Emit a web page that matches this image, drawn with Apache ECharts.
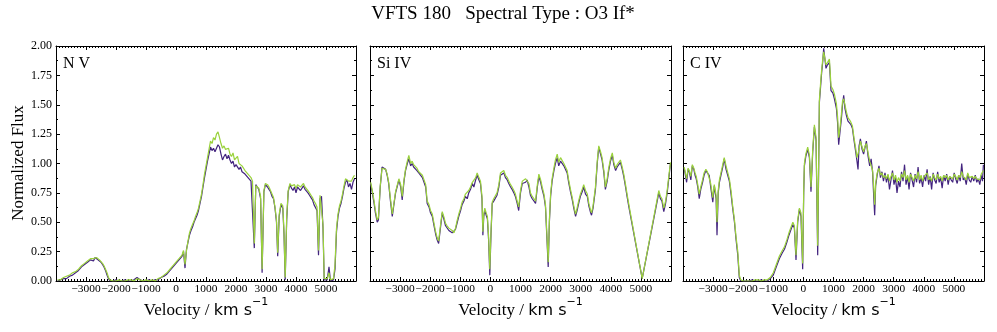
<!DOCTYPE html>
<html>
<head>
<meta charset="utf-8">
<script src="https://cdn.jsdelivr.net/npm/echarts@6/dist/echarts.min.js"></script>
<style>
html,body{margin:0;padding:0;background:#fff;}
#chart{width:997px;height:332px;}
</style>
</head>
<body>
<div id="chart"></div>
<script>
// ---------- DATA ----------
var panelNames = ['N V', 'Si IV', 'C IV'];
var xTicks = [-3000, -2000, -1000, 0, 1000, 2000, 3000, 4000, 5000];
var yTicks = [0.00, 0.25, 0.50, 0.75, 1.00, 1.25, 1.50, 1.75, 2.00];

// N V
var nvVel = [
 -3950,-3850,-3750,-3650,-3550,-3450,-3350,-3250,-3150,-3050,
 -2950,-2850,-2750,-2700,-2650,-2600,-2550,-2500,-2450,-2400,
 -2350,-2300,-2250,-2200,-2100,-2000,-1900,-1800,-1700,-1600,
 -1500,-1400,-1300,-1200,-1100,-1000,-900,-800,-700,-600,
 -500,-400,-300,-200,-100,0,100,150,200,250,
 300,350,400,450,500,550,600,650,700,750,
 800,850,900,950,1000,1050,1100,1150,1200,1250,
 1300,1350,1400,1450,1500,1550,1600,1650,1700,1750,
 1800,1850,1900,1950,2000,2050,2100,2150,2200,2250,
 2300,2350,2400,2450,2500,2550,2610,2660,2710,2760,
 2820,2870,2930,2980,3050,3100,3150,3200,3250,3300,
 3350,3390,3440,3500,3560,3600,3640,3690,3740,3800,
 3850,3900,3950,4000,4050,4100,4150,4200,4250,4300,
 4350,4400,4450,4500,4550,4600,4650,4700,4750,4800,
 4850,4900,4940,4990,5040,5100,5150,5200,5250,5300,
 5350,5400,5450,5500,5550,5600,5650,5700,5750,5800,
 5850,5900,5950];
var nvPurple = [
 0.00,0.01,0.02,0.02,0.04,0.05,0.07,0.09,0.12,0.14,
 0.16,0.18,0.17,0.20,0.21,0.18,0.19,0.16,0.14,0.12,
 0.09,0.05,0.02,0.00,0.00,0.01,0.00,0.00,0.01,0.00,
 0.00,0.01,0.03,0.01,0.00,0.00,0.01,0.00,0.01,0.01,
 0.03,0.04,0.06,0.09,0.12,0.15,0.18,0.17,0.21,0.25,
 0.11,0.27,0.33,0.39,0.43,0.46,0.50,0.53,0.56,0.60,
 0.66,0.72,0.80,0.88,0.95,1.02,1.08,1.14,1.11,1.13,
 1.10,1.13,1.16,1.14,1.08,1.03,1.06,1.08,1.04,1.07,
 1.03,1.00,1.02,0.97,0.99,1.00,0.95,0.97,0.93,0.94,
 0.91,0.92,0.88,0.89,0.85,0.84,0.28,0.82,0.80,0.78,
 0.70,0.07,0.76,0.82,0.80,0.78,0.76,0.72,0.70,0.62,
 0.50,0.21,0.55,0.65,0.62,0.40,0.01,0.52,0.76,0.82,
 0.79,0.77,0.80,0.75,0.80,0.81,0.77,0.79,0.81,0.78,
 0.77,0.75,0.73,0.71,0.69,0.65,0.64,0.60,0.22,0.70,
 0.72,0.45,0.01,0.00,0.01,0.12,0.00,0.00,0.01,0.10,
 0.42,0.55,0.62,0.66,0.72,0.79,0.84,0.86,0.80,0.83,
 0.78,0.84,0.87];
var nvGreen = [
 0.01,0.01,0.03,0.04,0.05,0.07,0.08,0.10,0.13,0.15,
 0.17,0.19,0.19,0.19,0.20,0.19,0.18,0.17,0.15,0.13,
 0.10,0.07,0.03,0.01,0.00,0.00,0.01,0.00,0.00,0.01,
 0.01,0.00,0.02,0.01,0.00,0.01,0.00,0.01,0.00,0.02,
 0.03,0.05,0.07,0.10,0.13,0.16,0.19,0.19,0.22,0.26,
 0.14,0.26,0.34,0.41,0.45,0.48,0.51,0.55,0.58,0.62,
 0.68,0.74,0.82,0.91,0.98,1.05,1.12,1.19,1.17,1.22,
 1.20,1.25,1.27,1.22,1.17,1.13,1.15,1.12,1.11,1.13,
 1.08,1.06,1.09,1.03,1.04,1.06,1.00,1.01,0.98,0.97,
 0.94,0.93,0.91,0.90,0.88,0.85,0.32,0.81,0.81,0.79,
 0.72,0.10,0.77,0.83,0.82,0.80,0.77,0.74,0.71,0.63,
 0.52,0.24,0.57,0.66,0.64,0.42,0.03,0.55,0.77,0.83,
 0.81,0.80,0.82,0.79,0.82,0.83,0.80,0.81,0.83,0.80,
 0.79,0.77,0.75,0.73,0.71,0.68,0.66,0.63,0.26,0.73,
 0.74,0.48,0.02,0.01,0.02,0.07,0.01,0.01,0.02,0.14,
 0.45,0.57,0.64,0.68,0.74,0.81,0.87,0.88,0.85,0.86,
 0.85,0.88,0.90];

// Si IV
var siVel = [
 -3980,-3930,-3870,-3820,-3760,-3720,-3660,-3600,-3540,-3480,
 -3430,-3380,-3320,-3260,-3200,-3150,-3100,-3040,-2980,-2930,
 -2870,-2820,-2760,-2710,-2650,-2600,-2550,-2500,-2440,-2380,
 -2320,-2260,-2210,-2150,-2100,-2040,-1990,-1930,-1880,-1820,
 -1770,-1720,-1660,-1600,-1550,-1490,-1440,-1380,-1320,-1270,
 -1210,-1160,-1100,-1050,-990,-940,-880,-830,-770,-720,
 -660,-600,-550,-490,-440,-380,-330,-280,-250,-220,
 -186,-140,-100,-60,-20,20,60,110,170,220,
 280,335,390,445,500,560,610,670,720,780,
 830,890,940,1000,1060,1110,1170,1220,1280,1330,
 1390,1450,1500,1560,1610,1670,1720,1780,1830,1880,
 1920,1960,2000,2050,2110,2160,2220,2270,2330,2390,
 2440,2500,2550,2600,2660,2720,2770,2830,2880,2940,
 2990,3050,3100,3160,3220,3270,3330,3360,3410,3490,
 3550,3600,3660,3710,3770,3820,3880,3930,3990,4050,
 4100,4160,4210,4270,4320,4380,4430,4490,4540,4600,
 5043,5594,5650,5700,5760,5820,5873,5930,5983];
var siPurple = [
 0.83,0.76,0.67,0.58,0.50,0.52,0.80,0.97,0.96,0.95,
 0.90,0.83,0.68,0.55,0.66,0.75,0.80,0.86,0.80,0.69,
 0.85,0.94,1.00,1.04,0.98,1.00,0.97,0.98,0.94,0.92,
 0.93,0.88,0.89,0.80,0.66,0.63,0.58,0.55,0.48,0.40,
 0.35,0.32,0.45,0.58,0.53,0.47,0.46,0.43,0.44,0.41,
 0.40,0.44,0.50,0.55,0.60,0.65,0.68,0.72,0.70,0.75,
 0.78,0.83,0.80,0.86,0.90,0.86,0.83,0.70,0.39,0.55,
 0.60,0.56,0.53,0.35,0.05,0.40,0.66,0.68,0.69,0.73,
 0.80,0.90,0.89,0.92,0.88,0.86,0.83,0.80,0.78,0.75,
 0.72,0.66,0.60,0.75,0.83,0.82,0.84,0.86,0.80,0.73,
 0.70,0.68,0.66,0.80,0.89,0.84,0.78,0.72,0.63,0.35,
 0.12,0.50,0.72,0.85,0.94,1.00,1.05,0.98,1.02,1.03,
 0.98,0.99,0.92,0.84,0.76,0.69,0.62,0.55,0.60,0.67,
 0.72,0.76,0.80,0.74,0.72,0.64,0.58,0.56,0.62,0.78,
 1.00,1.14,1.08,1.03,0.92,0.78,0.85,0.94,1.02,1.07,
 0.99,0.94,0.97,0.96,1.01,0.95,0.89,0.80,0.72,0.63,
 0.02,0.75,0.70,0.68,0.59,0.66,0.75,0.88,1.00];
var siGreen = [
 0.84,0.78,0.69,0.60,0.52,0.54,0.81,0.96,0.97,0.95,
 0.91,0.84,0.70,0.57,0.67,0.76,0.81,0.87,0.82,0.72,
 0.86,0.95,1.02,1.07,1.00,1.02,0.99,1.00,0.96,0.93,
 0.94,0.90,0.91,0.82,0.68,0.65,0.60,0.57,0.50,0.42,
 0.37,0.34,0.47,0.59,0.55,0.49,0.47,0.45,0.46,0.43,
 0.41,0.45,0.52,0.57,0.62,0.67,0.70,0.74,0.73,0.77,
 0.80,0.84,0.83,0.88,0.92,0.88,0.85,0.72,0.42,0.57,
 0.62,0.58,0.55,0.38,0.10,0.42,0.67,0.70,0.71,0.75,
 0.82,0.92,0.91,0.94,0.90,0.88,0.85,0.82,0.80,0.77,
 0.74,0.68,0.63,0.77,0.85,0.84,0.87,0.88,0.83,0.75,
 0.72,0.70,0.68,0.82,0.91,0.86,0.80,0.74,0.65,0.38,
 0.16,0.52,0.74,0.87,0.96,1.03,1.08,1.01,1.05,1.06,
 1.00,1.01,0.94,0.86,0.78,0.71,0.64,0.57,0.62,0.69,
 0.74,0.78,0.82,0.77,0.74,0.66,0.60,0.58,0.64,0.80,
 1.02,1.15,1.10,1.05,0.94,0.80,0.87,0.96,1.04,1.09,
 1.01,0.96,0.99,0.98,1.03,0.97,0.91,0.82,0.74,0.65,
 0.02,0.77,0.72,0.70,0.62,0.68,0.77,0.90,1.01];

// C IV
var cVel = [
 -3960,-3920,-3880,-3830,-3790,-3740,-3690,-3640,-3600,-3560,
 -3510,-3460,-3410,-3350,-3300,-3240,-3190,-3130,-3080,-3010,
 -2960,-2900,-2870,-2830,-2790,-2740,-2680,-2630,-2570,-2510,
 -2460,-2400,-2350,-2290,-2240,-2180,-2130,-2080,-2000,-1900,
 -1800,-1700,-1600,-1500,-1400,-1300,-1200,-1100,-1000,-900,
 -800,-700,-630,-550,-480,-410,-350,-300,-246,-190,
 -133,-80,-24,10,33,80,143,200,252,310,
 365,420,475,531,570,608,640,674,710,751,
 800,864,917,980,1030,1096,1135,1172,1220,1262,
 1300,1339,1380,1428,1480,1538,1580,1628,1680,1737,
 1780,1815,1850,1893,1950,2000,2050,2093,2150,2202,
 2250,2300,2340,2368,2400,2450,2511,2560,2610,2660,
 2710,2760,2810,2860,2910,2960,3010,3060,3110,3160,
 3210,3260,3310,3360,3410,3460,3510,3560,3610,3660,
 3710,3760,3810,3860,3910,3960,4010,4060,4110,4160,
 4210,4260,4310,4360,4410,4460,4510,4560,4610,4660,
 4710,4760,4810,4860,4910,4960,5010,5060,5110,5160,
 5210,5260,5310,5360,5410,5460,5510,5560,5610,5660,
 5710,5760,5810,5860,5910,5950,5980];
var cPurple = [
 0.96,0.90,0.84,0.95,0.93,0.86,0.98,0.95,0.90,0.87,
 0.80,0.70,0.78,0.84,0.90,0.94,0.92,0.90,0.80,0.67,
 0.81,0.70,0.39,0.75,0.84,0.90,0.97,1.04,0.95,0.96,
 0.85,0.73,0.62,0.50,0.36,0.22,0.03,0.00,0.00,0.00,
 0.00,0.01,0.00,0.00,0.01,0.00,0.00,0.02,0.05,0.12,
 0.19,0.24,0.27,0.33,0.39,0.44,0.48,0.45,0.18,0.50,
 0.61,0.55,0.10,0.75,0.98,1.06,1.12,1.05,0.76,1.10,
 1.31,1.20,0.22,1.52,1.65,1.78,1.86,1.98,1.90,1.81,
 1.84,1.86,1.62,1.60,1.55,1.47,1.35,1.16,1.28,1.38,
 1.50,1.58,1.47,1.41,1.36,1.35,1.33,1.30,1.20,1.10,
 1.02,0.95,1.15,1.21,1.12,1.08,1.14,1.19,1.06,0.98,
 1.04,0.92,0.70,0.56,0.81,0.90,0.98,0.88,0.93,0.85,
 0.92,0.84,0.90,0.78,0.86,0.94,0.82,0.88,0.75,0.85,
 0.80,0.93,0.85,0.99,0.82,0.89,0.78,0.92,0.86,0.80,
 0.91,0.84,0.97,0.83,0.88,0.80,0.90,0.85,0.95,0.82,
 0.89,0.78,0.92,0.86,0.83,0.93,0.84,0.88,0.79,0.90,
 0.85,0.91,0.82,0.89,0.86,0.84,0.92,0.87,0.83,0.90,
 0.85,1.00,0.86,0.88,0.82,0.91,0.86,0.84,0.89,0.85,
 0.90,0.84,0.87,0.82,0.90,0.85,0.99];
var cGreen = [
 0.97,0.92,0.87,0.96,0.94,0.89,0.99,0.96,0.92,0.89,
 0.82,0.74,0.80,0.86,0.92,0.95,0.93,0.92,0.83,0.71,
 0.82,0.73,0.50,0.77,0.86,0.92,0.99,1.05,0.98,0.98,
 0.87,0.76,0.64,0.52,0.38,0.25,0.05,0.01,0.00,0.00,
 0.00,0.00,0.01,0.01,0.00,0.01,0.01,0.03,0.07,0.14,
 0.21,0.26,0.29,0.35,0.41,0.46,0.50,0.47,0.22,0.52,
 0.62,0.58,0.15,0.77,1.00,1.08,1.14,1.07,0.80,1.12,
 1.33,1.22,0.30,1.54,1.68,1.80,1.88,1.95,1.94,1.84,
 1.86,1.89,1.66,1.63,1.59,1.51,1.40,1.22,1.31,1.42,
 1.53,1.55,1.50,1.44,1.39,1.37,1.35,1.32,1.22,1.13,
 1.05,1.05,1.12,1.19,1.14,1.10,1.15,1.17,1.09,1.02,
 1.03,0.94,0.78,0.65,0.83,0.92,0.96,0.90,0.92,0.88,
 0.90,0.87,0.91,0.85,0.89,0.92,0.86,0.90,0.84,0.88,
 0.85,0.91,0.88,0.94,0.86,0.90,0.84,0.91,0.88,0.85,
 0.90,0.87,0.93,0.86,0.90,0.85,0.89,0.88,0.92,0.86,
 0.88,0.85,0.91,0.88,0.86,0.91,0.87,0.89,0.85,0.90,
 0.88,0.90,0.86,0.89,0.88,0.87,0.91,0.89,0.86,0.90,
 0.88,0.93,0.89,0.90,0.86,0.92,0.88,0.87,0.89,0.87,
 0.89,0.87,0.88,0.86,0.91,0.90,0.94];

// ---------- CHART ----------
var PURPLE = '#43247f';
var GREEN = '#9ad23c';
var SERIF = '"Liberation Serif", "Times New Roman", serif';
var grids = [
  {left: 56, top: 46, width: 300, height: 235},
  {left: 370, top: 46, width: 301, height: 235},
  {left: 683, top: 46, width: 301, height: 235}
];
function zip(v, f) { return v.map(function (x, i) { return [x, f[i]]; }); }
var panels = [[nvVel, nvPurple, nvGreen], [siVel, siPurple, siGreen], [cVel, cPurple, cGreen]];

var tickStyle = {color: '#000', width: 1};
var xAxes = [], yAxes = [], series = [];
grids.forEach(function (g, gi) {
  ['bottom', 'top'].forEach(function (pos) {
    xAxes.push({
      type: 'value', gridIndex: gi, position: pos,
      min: -4000, max: 6000, interval: 1000,
      axisLine: {show: true, onZero: false, lineStyle: {color: '#000', width: 1}},
      axisTick: {show: true, inside: true, length: 4, lineStyle: tickStyle},
      minorTick: {show: true, splitNumber: 10, length: 2, lineStyle: tickStyle},
      splitLine: {show: false},
      axisLabel: {show: pos === 'bottom',
        customValues: xTicks, showMinLabel: true, showMaxLabel: true, hideOverlap: false,
        fontFamily: SERIF, fontSize: 11.4, color: '#000', margin: 3,
        formatter: function (v) { return String(v).replace('-', '\u2212'); }}
    });
  });
  ['left', 'right'].forEach(function (pos) {
    yAxes.push({
      type: 'value', gridIndex: gi, position: pos,
      min: 0, max: 2, interval: 0.25,
      axisLine: {show: true, onZero: false, lineStyle: {color: '#000', width: 1}},
      axisTick: {show: true, inside: true, length: 4, lineStyle: tickStyle},
      minorTick: {show: true, splitNumber: 2, length: 2, lineStyle: tickStyle},
      splitLine: {show: false},
      axisLabel: {show: (gi === 0 && pos === 'left'),
        customValues: yTicks, showMinLabel: true, showMaxLabel: true,
        fontFamily: SERIF, fontSize: 12, color: '#000', margin: 4,
        formatter: function (v) { return v.toFixed(2); }}
    });
  });
  var p = panels[gi];
  series.push({type: 'line', xAxisIndex: gi * 2, yAxisIndex: gi * 2, data: zip(p[0], p[1]),
    showSymbol: false, lineStyle: {color: PURPLE, width: 1.2}, itemStyle: {color: PURPLE}, silent: true, z: 2});
  series.push({type: 'line', xAxisIndex: gi * 2, yAxisIndex: gi * 2, data: zip(p[0], p[2]),
    showSymbol: false, lineStyle: {color: GREEN, width: 1.2}, itemStyle: {color: GREEN}, silent: true, z: 3});
});

var graphics = [
  {type: 'text', x: 503, y: 14, style: {text: 'VFTS 180   Spectral Type : O3 If*', font: '19px ' + SERIF,
    fill: '#000', align: 'center', verticalAlign: 'middle', textAlign: 'center', textVerticalAlign: 'middle'}},
  {type: 'text', x: 19, y: 163, rotation: Math.PI / 2, style: {text: 'Normalized Flux', font: '17px ' + SERIF,
    fill: '#000', align: 'center', verticalAlign: 'middle', textAlign: 'center', textVerticalAlign: 'middle'}}
];
grids.forEach(function (g, gi) {
  graphics.push({type: 'text', x: g.left + 7, y: 64, z: 10, style: {text: panelNames[gi], font: '16px ' + SERIF,
    fill: '#000', align: 'left', verticalAlign: 'middle', textAlign: 'left', textVerticalAlign: 'middle'}});
  graphics.push({type: 'text', x: g.left + g.width / 2, y: 308, z: 10, style: {
    text: '{a|Velocity / }{b|km s}{c|\u22121}',
    align: 'center', verticalAlign: 'middle', textAlign: 'center', textVerticalAlign: 'middle',
    rich: {
      a: {fontFamily: SERIF, fontSize: 17, fill: '#000', color: '#000', verticalAlign: 'bottom', lineHeight: 22},
      b: {fontFamily: '"DejaVu Sans"', fontSize: 16, fill: '#000', color: '#000', verticalAlign: 'bottom', lineHeight: 22},
      c: {fontFamily: '"DejaVu Sans"', fontSize: 11, fill: '#000', color: '#000', verticalAlign: 'top', lineHeight: 22}
    }}});
});

var chart = echarts.init(document.getElementById('chart'), null, {renderer: 'canvas'});
chart.setOption({
  animation: false,
  backgroundColor: '#fff',
  grid: grids,
  xAxis: xAxes,
  yAxis: yAxes,
  series: series,
  graphic: graphics
});
</script>
</body>
</html>
